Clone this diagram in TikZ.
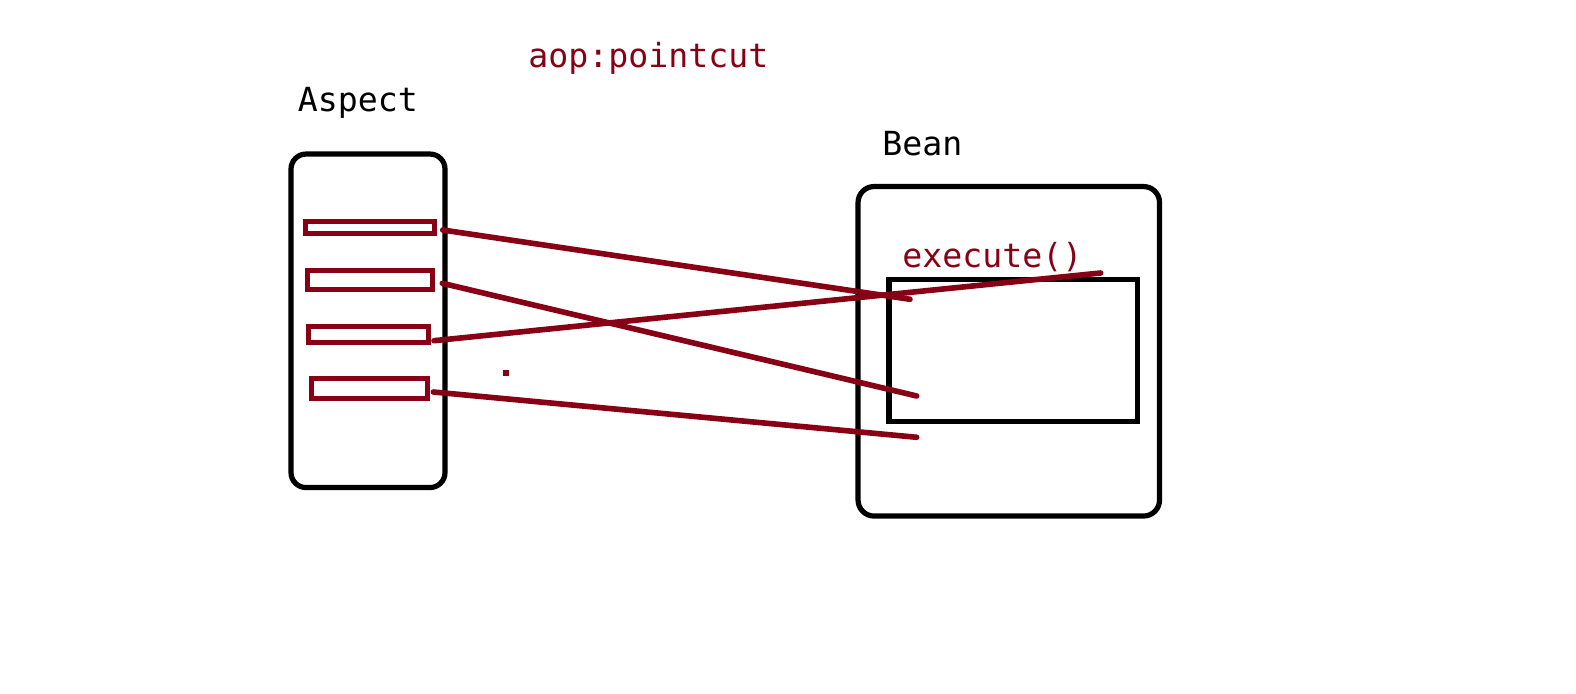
\documentclass[tikz,border=0pt]{standalone}
\usepackage{fontspec}
\setmonofont{DejaVu Sans Mono}
\usetikzlibrary{positioning}
\definecolor{darkred}{RGB}{136,0,21}

\begin{document}
\begin{tikzpicture}[x=0.5pt, y=-0.5pt,
    box/.style={draw, line width=2.6pt, inner sep=0pt, outer sep=0pt},
    slot/.style={draw=darkred, line width=2.5pt, inner sep=0pt, outer sep=0pt},
    link/.style={draw=darkred, line width=2.8pt, line cap=round},
    label/.style={inner sep=0pt, anchor=base west, font=\ttfamily\fontsize{16.6}{18}\selectfont}]
    \fill[white, use as bounding box] (0, 0) rectangle (1576, 694);

    % containers
    \node[box, rounded corners=7.5pt, minimum width=77pt, minimum height=166.75pt] (aspect) at (368, 320.8) {};
    \node[box, rounded corners=8pt, minimum width=150.75pt, minimum height=164.75pt] (bean) at (1008.8, 351.3) {};
    \node[box, minimum width=124.25pt, minimum height=71pt] (method) at (1013.3, 350.6) {};

    % advice slots
    \node[slot, minimum width=64.5pt, minimum height=5.75pt] (slot1) at (370, 227.3) {};
    \node[slot, minimum width=62.5pt, minimum height=9.75pt] (slot2) at (369.5, 279.8) {};
    \node[slot, minimum width=60pt, minimum height=8.25pt] (slot3) at (368, 334.3) {};
    \node[slot, minimum width=58pt, minimum height=10.25pt] (slot4) at (369, 388.3) {};
    \node[fill=darkred, inner sep=0pt, minimum size=3pt] (dot) at (506, 373) {};

    % labels
    \node[label, text=darkred] (pointcut) at (528, 68) {aop:pointcut};
    \node[label] (aspectlabel) at (297.5, 111.7) {Aspect};
    \node[label] (beanlabel) at (882, 156) {Bean};
    \node[label, text=darkred] (execute) at (902, 267.7) {execute()};

    % join points
    \coordinate (e1) at (910, 299.3);
    \coordinate (e2) at (916.7, 396);
    \coordinate (e3) at (1100.7, 273);
    \coordinate (e4) at (916.7, 437.3);

    \draw[link] ([xshift=4.1pt, yshift=-1.35pt]slot1.east) -- (e1);
    \draw[link] ([xshift=5.15pt, yshift=-1.75pt]slot2.east) -- (e2);
    \draw[link] ([xshift=3pt, yshift=-3.2pt]slot3.east) -- (e3);
    \draw[link] ([xshift=3.15pt, yshift=-1.85pt]slot4.east) -- (e4);
\end{tikzpicture}
\end{document}
